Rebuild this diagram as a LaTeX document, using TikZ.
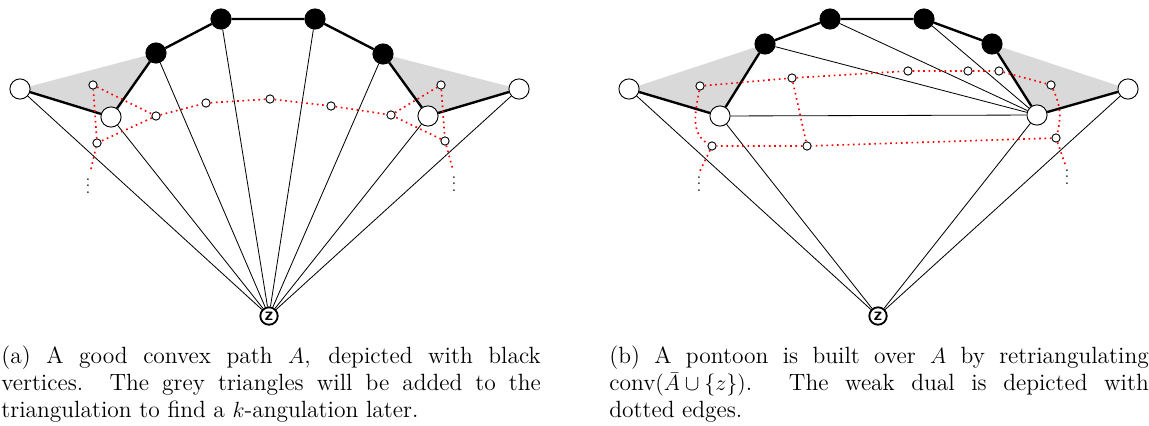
\documentclass[tikz,border=0pt]{standalone}
\usepackage{amsmath}
\usetikzlibrary{backgrounds}

\tikzset{
  outer/.style={circle, draw, fill=white, line width=0.5pt, minimum size=11pt, inner sep=0pt},
  convex/.style={outer, fill=black},
  dual/.style={circle, draw, fill=white, line width=0.5pt, minimum size=4.5pt, inner sep=0pt},
  apex/.style={circle, draw, fill=white, line width=1pt, minimum size=9.5pt, inner sep=0pt, font=\sffamily\bfseries},
  hull/.style={line width=1.3pt},
  fan/.style={line width=0.45pt},
  dualedge/.style={red, dotted, line width=0.9pt},
  grey/.style={fill=black!15},
  dots/.style={scale=0.85, anchor=base, inner sep=0pt},
  caption/.style={text width=294pt, align=justify, inner sep=0pt, anchor=north west,
    font=\fontsize{12.8}{14.6}\selectfont}
}

\begin{document}
\begin{tikzpicture}[x=0.545pt, y=-0.545pt]
  \useasboundingbox (0,0) rectangle (1149,425);

  % (a) good convex path
  \node[outer]  (a0) at (20,89)   {};
  \node[outer]  (a1) at (111,117) {};
  \node[convex] (a2) at (156,53)  {};
  \node[convex] (a3) at (221,19)  {};
  \node[convex] (a4) at (315,19)  {};
  \node[convex] (a5) at (383,54)  {};
  \node[outer]  (a6) at (428,116) {};
  \node[outer]  (a7) at (519,89)  {};
  \node[apex]   (za) at (269,316) {z};

  \begin{scope}[on background layer]
    \fill[grey] (a0.center) -- (a2.center) -- (a1.center) -- cycle;
    \fill[grey] (a7.center) -- (a5.center) -- (a6.center) -- cycle;
  \end{scope}

  \foreach \i in {0,...,7}
    \draw[fan] (za) -- (a\i);
  \draw[hull] (a0) -- (a1) -- (a2) -- (a3) -- (a4) -- (a5) -- (a6) -- (a7);

  \node[dual] (da1) at (93,85)   {};
  \node[dual] (da2) at (97,143)  {};
  \node[dual] (da3) at (156,116) {};
  \node[dual] (da4) at (206,103) {};
  \node[dual] (da5) at (270,99)  {};
  \node[dual] (da6) at (331,106) {};
  \node[dual] (da7) at (391,115) {};
  \node[dual] (da8) at (441,85)  {};
  \node[dual] (da9) at (445,141) {};
  \coordinate (fa1) at (91,169);
  \coordinate (fa2) at (453,170);

  \draw[dualedge] (fa1) -- (da2) -- (da1) -- (da3) -- (da2);
  \draw[dualedge] (da3) -- (da4) -- (da5) -- (da6) -- (da7) -- (da8) -- (da9) -- (da7);
  \draw[dualedge] (da9) -- (fa2);
  \node[dots] (va1) at (88,193)  {$\vdots$};
  \node[dots] (va2) at (454,191) {$\vdots$};

  % (b) pontoon over A
  \node[outer]  (b0) at (629,89)   {};
  \node[outer]  (b1) at (720,116)  {};
  \node[convex] (b2) at (765,44)   {};
  \node[convex] (b3) at (830,19)   {};
  \node[convex] (b4) at (924,19)   {};
  \node[convex] (b5) at (992,44)   {};
  \node[outer]  (b6) at (1037,115) {};
  \node[outer]  (b7) at (1128,89)  {};
  \node[apex]   (zb) at (878,316)  {z};

  \begin{scope}[on background layer]
    \fill[grey] (b0.center) -- (b2.center) -- (b1.center) -- cycle;
    \fill[grey] (b7.center) -- (b5.center) -- (b6.center) -- cycle;
  \end{scope}

  \foreach \i in {0,1,6,7}
    \draw[fan] (zb) -- (b\i);
  \foreach \i in {1,...,4}
    \draw[fan] (b\i) -- (b6);
  \draw[hull] (b0) -- (b1) -- (b2) -- (b3) -- (b4) -- (b5) -- (b6) -- (b7);

  \node[dual] (db1) at (700,86)  {};
  \node[dual] (db2) at (792,78)  {};
  \node[dual] (db3) at (712,146) {};
  \node[dual] (db4) at (807,146) {};
  \node[dual] (db5) at (908,71)  {};
  \node[dual] (db6) at (968,71)  {};
  \node[dual] (db7) at (999,71)  {};
  \node[dual] (db8) at (1051,85) {};
  \node[dual] (db9) at (1056,138) {};
  \coordinate (fb1) at (700,171);
  \coordinate (fb2) at (1066,167);

  \draw[dualedge] (db1) -- (db2) -- (db5) -- (db6) -- (db7) -- (db8);
  \draw[dualedge] (db8) to[out=-65, in=75] (db9) -- (db4) -- (db3);
  \draw[dualedge] (db1) to[out=-100, in=150] (db3) -- (fb1);
  \draw[dualedge] (db2) -- (db4);
  \draw[dualedge] (db9) -- (fb2);
  \node[dots] (vb1) at (699,191)  {$\vdots$};
  \node[dots] (vb2) at (1067,184) {$\vdots$};

  % captions
  \node[caption] (capa) at (1,346) {\noindent(a) A good convex path $A$, depicted with black\linebreak vertices. The grey triangles will be added to the\linebreak triangulation to find a $k$-angulation later.};
  \node[caption] (capb) at (609,346) {\noindent(b) A pontoon is built over $A$ by retriangulating \mbox{conv$(\bar{A} \cup \{z\})$}. The weak dual is depicted with\linebreak dotted edges.};
\end{tikzpicture}
\end{document}
